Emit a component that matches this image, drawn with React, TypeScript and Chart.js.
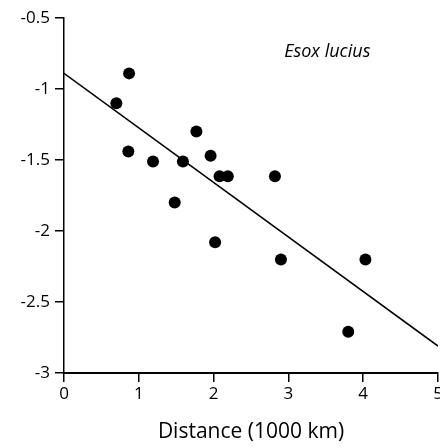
import React, { useEffect, useRef } from "react";
import { Chart, registerables } from "chart.js";

Chart.register(...registerables);

const distanceX = [0.87, 0.70, 0.86, 1.19, 1.59, 1.77, 1.96, 2.08, 2.19, 2.82, 1.48, 2.02, 2.90, 4.03, 3.80];
const valueY = [-0.89, -1.10, -1.44, -1.51, -1.51, -1.30, -1.47, -1.615, -1.615, -1.615, -1.80, -2.08, -2.20, -2.20, -2.71];
const fitX = [0, 5];
const fitY = [-0.89, -2.81];
const yTickLabels = ["-3", "-2.5", "-2", "-1.5", "-1", "-0.5"];
const xTickLabels = ["0", "1", "2", "3", "4", "5"];
const speciesLabel = "Esox lucius";
const xAxisTitle = "Distance (1000 km)";

const FONT = "'Open Sans', 'Noto Sans', sans-serif";

export default function App() {
  const ref = useRef<HTMLCanvasElement | null>(null);

  useEffect(() => {
    if (!ref.current) return;
    const labelPlugin = {
      id: "speciesLabel",
      afterDraw(chart: any) {
        const ctx = chart.ctx;
        const xs = chart.scales.x;
        const ys = chart.scales.y;
        ctx.save();
        ctx.font = `italic 18px ${FONT}`;
        ctx.fillStyle = "#000";
        ctx.textAlign = "center";
        ctx.textBaseline = "middle";
        ctx.fillText(speciesLabel, xs.getPixelForValue(3.52), ys.getPixelForValue(-0.74));
        ctx.restore();
      },
    };

    const chart = new Chart(ref.current, {
      type: "scatter",
      data: {
        datasets: [
          {
            type: "line",
            data: fitX.map((x, i) => ({ x, y: fitY[i] })),
            borderColor: "#000",
            borderWidth: 1.5,
            pointRadius: 0,
            fill: false,
          } as any,
          {
            data: distanceX.map((x, i) => ({ x, y: valueY[i] })),
            backgroundColor: "#000",
            borderWidth: 0,
            pointRadius: 6,
          },
        ],
      },
      plugins: [labelPlugin],
      options: {
        responsive: false,
        animation: false,
        layout: { autoPadding: false, padding: { top: 18, right: 2, left: 0, bottom: 0 } } as any,
        plugins: { legend: { display: false }, tooltip: { enabled: false } },
        scales: {
          x: {
            type: "linear",
            min: 0,
            max: 5,
            afterFit(scale: any) {
              scale.height = 75;
              scale.paddingLeft = 0;
              scale.paddingRight = 0;
            },
            border: { display: true, color: "#000", width: 2 },
            grid: { display: true, drawOnChartArea: false, drawTicks: true, tickLength: 9, color: "#000", lineWidth: 1.5 },
            ticks: {
              stepSize: 1,
              color: "#000",
              padding: 2,
              font: { family: FONT, size: 17 },
              maxRotation: 0,
              callback: (v: any) => xTickLabels[Math.round(Number(v))] ?? "",
            },
            title: {
              display: true,
              text: xAxisTitle,
              color: "#000",
              font: { family: FONT, size: 21 },
              padding: { top: 0, bottom: 3 },
            },
          },
          y: {
            type: "linear",
            min: -3,
            max: -0.5,
            afterFit(scale: any) {
              scale.width = 64;
              scale.paddingTop = 0;
              scale.paddingBottom = 0;
            },
            border: { display: true, color: "#000", width: 1.5 },
            grid: { display: true, drawOnChartArea: false, drawTicks: true, tickLength: 9, color: "#000", lineWidth: 1.5 },
            ticks: {
              stepSize: 0.5,
              color: "#000",
              padding: 5,
              font: { family: FONT, size: 17 },
              callback: (v: any) => yTickLabels[Math.round((Number(v) + 3) * 2)] ?? "",
            },
          },
        },
      } as any,
    });
    return () => chart.destroy();
  }, []);

  return (
    <div style={{ position: "absolute", left: 0, top: 0, width: 440, height: 448, background: "#fff" }}>
      <canvas ref={ref} width={440} height={448} style={{ display: "block" }} />
    </div>
  );
}
